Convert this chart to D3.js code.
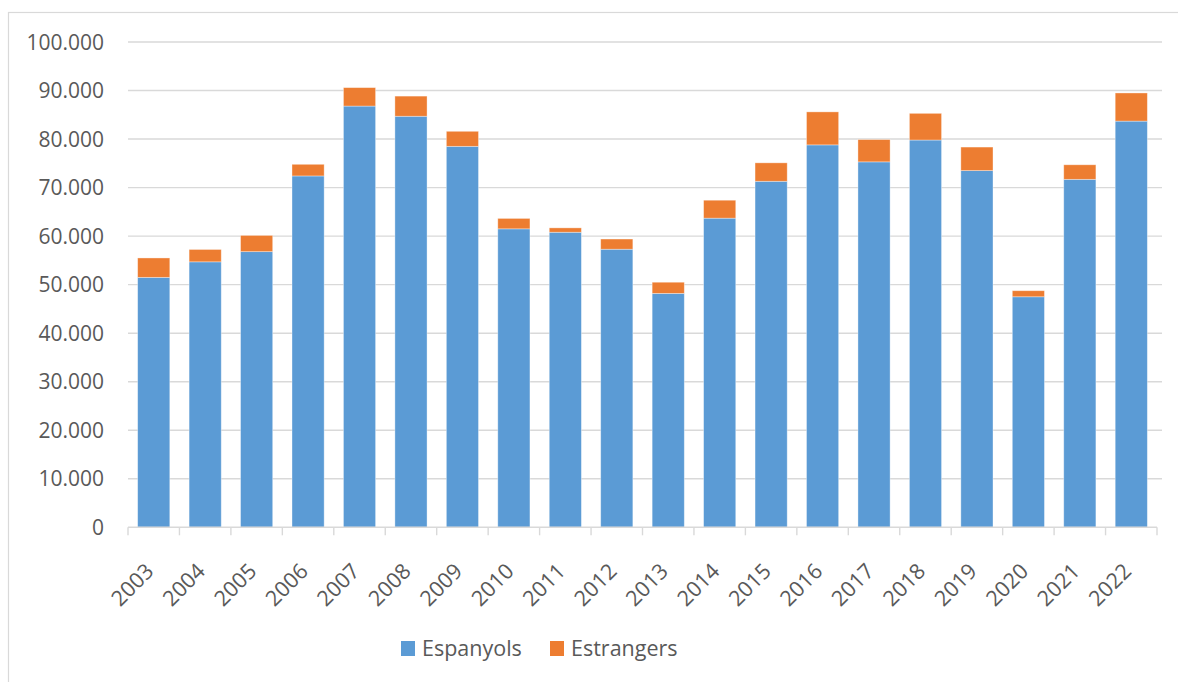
<!DOCTYPE html>
<html lang="ca">
<head>
<meta charset="utf-8">
<script src="https://d3js.org/d3.v7.min.js"></script>
<style>
  body { margin: 0; background: #fff; }
  svg text { font-family: "Open Sans", "DejaVu Sans", sans-serif; fill: #595959; }
  .grid line { stroke: #d9d9d9; stroke-width: 1.4; }
</style>
</head>
<body>
<svg width="1178" height="682"></svg>
<script>
// data
var years = ["2003","2004","2005","2006","2007","2008","2009","2010","2011","2012",
             "2013","2014","2015","2016","2017","2018","2019","2020","2021","2022"];
var espanyols  = [51500, 54700, 56800, 72400, 86800, 84700, 78500, 61500, 60800, 57300,
                  48200, 63700, 71300, 78800, 75300, 79800, 73500, 47500, 71700, 83700];
var estrangers = [ 4000,  2550,  3350,  2400,  3800,  4150,  3100,  2150,   900,  2100,
                   2300,  3700,  3800,  6800,  4600,  5500,  4850,  1250,  3000,  5800];
var seriesNames = ["Espanyols", "Estrangers"];
var colors = ["#5b9bd5", "#ed7d31"];
var yTicks = [0, 10000, 20000, 30000, 40000, 50000, 60000, 70000, 80000, 90000, 100000];

var svg = d3.select("svg");

// outer frame
svg.append("rect")
    .attr("x", 8.5).attr("y", 12.5)
    .attr("width", 1190).attr("height", 690)
    .attr("fill", "none")
    .attr("stroke", "#d9d9d9")
    .attr("stroke-width", 1.2);

var plotLeft = 128, plotRight = 1157, plotTop = 42, plotBottom = 527.3;

var x = d3.scaleBand()
    .domain(years)
    .range([plotLeft, plotRight])
    .paddingInner(0.375)
    .paddingOuter(0.1875);

var y = d3.scaleLinear()
    .domain([0, 100000])
    .range([plotBottom, plotTop]);

var fmt = function(v) { return v === 0 ? "0" : d3.format(",")(v).replace(/,/g, "."); };

// gridlines
svg.append("g").attr("class", "grid")
  .selectAll("line")
  .data(yTicks.slice(1))
  .enter().append("line")
    .attr("x1", plotLeft).attr("x2", 1162)
    .attr("y1", function(d) { return y(d); })
    .attr("y2", function(d) { return y(d); });

// y labels
svg.append("g")
  .selectAll("text")
  .data(yTicks)
  .enter().append("text")
    .attr("x", 104)
    .attr("y", function(d) { return y(d); })
    .attr("dy", "0.36em")
    .attr("text-anchor", "end")
    .style("font-size", "21px")
    .text(fmt);

// stacked bars
var rows = years.map(function(yr, i) {
  return { year: yr, Espanyols: espanyols[i], Estrangers: estrangers[i] };
});
var stack = d3.stack().keys(seriesNames)(rows);

svg.append("g")
  .selectAll("g")
  .data(stack)
  .enter().append("g")
    .attr("fill", function(d, i) { return colors[i]; })
  .selectAll("rect")
  .data(function(d) { return d; })
  .enter().append("rect")
    .attr("x", function(d) { return x(d.data.year); })
    .attr("width", x.bandwidth())
    .attr("y", function(d) { return y(d[1]); })
    .attr("height", function(d) { return y(d[0]) - y(d[1]); })
    .attr("stroke", "#fff")
    .attr("stroke-opacity", 0.45)
    .attr("stroke-width", 0.8);

// x axis line + ticks at category boundaries
var step = x.step();
var axis = svg.append("g").attr("stroke", "#d9d9d9").attr("stroke-width", 1.4);
axis.append("line")
    .attr("x1", plotLeft).attr("x2", plotRight)
    .attr("y1", plotBottom).attr("y2", plotBottom);
axis.selectAll(".tk")
  .data(d3.range(years.length + 1))
  .enter().append("line")
    .attr("x1", function(i) { return plotLeft + i * step; })
    .attr("x2", function(i) { return plotLeft + i * step; })
    .attr("y1", plotBottom).attr("y2", plotBottom + 8);

// x labels
svg.append("g")
  .selectAll("text")
  .data(years)
  .enter().append("text")
    .attr("transform", function(d) {
      return "translate(" + (x(d) + x.bandwidth() / 2 - 4) + "," + (plotBottom + 40) + ") rotate(-45)";
    })
    .attr("text-anchor", "end")
    .attr("dy", "0.35em")
    .style("font-size", "21.5px")
    .text(function(d) { return d; });

// legend
var legend = svg.append("g");
var lx = [401, 550];
seriesNames.forEach(function(name, i) {
  legend.append("rect")
      .attr("x", lx[i]).attr("y", 641)
      .attr("width", 14).attr("height", 15)
      .attr("fill", colors[i]);
  legend.append("text")
      .attr("x", lx[i] + 21).attr("y", 656)
      .style("font-size", "21.5px")
      .text(name);
});
</script>
</body>
</html>
